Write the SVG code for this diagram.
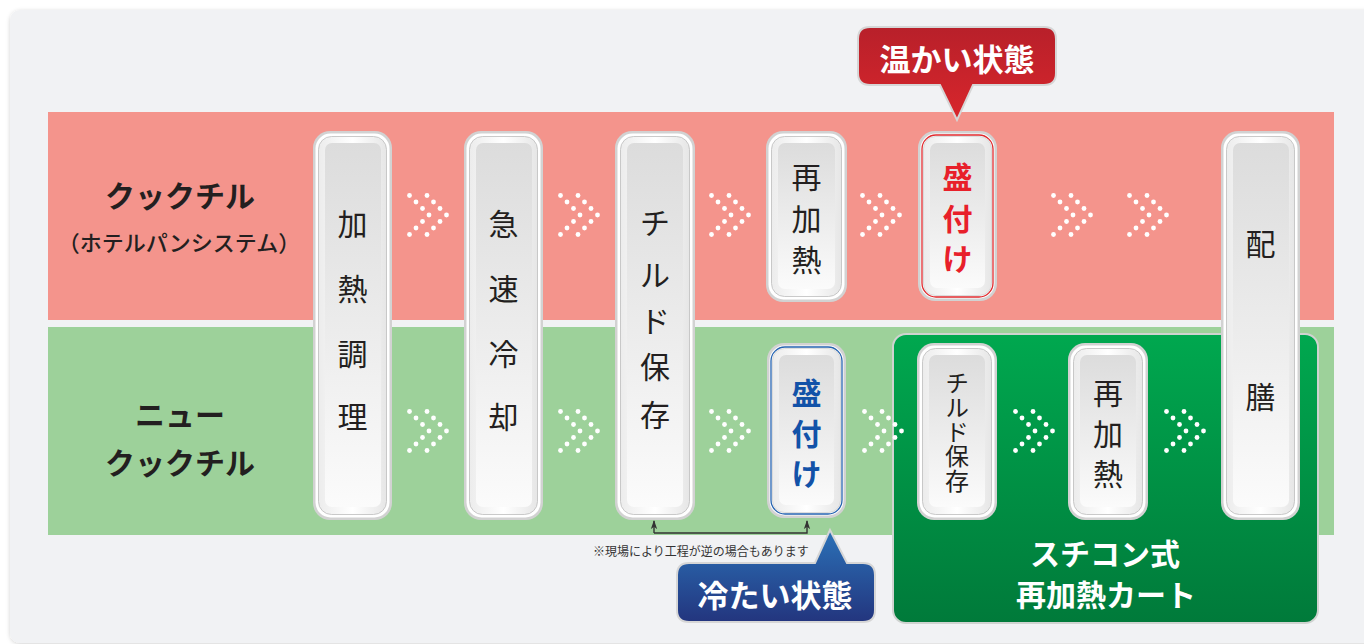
<svg xmlns="http://www.w3.org/2000/svg" width="1364" height="644" viewBox="0 0 1364 644">
<style>
.jp{font-family:"Noto Sans CJK JP","Noto Sans CJK SC",sans-serif}
.node-t{font-family:"Noto Sans CJK JP",sans-serif;font-size:30px;fill:#231f20;text-anchor:middle;dominant-baseline:central}
.lbl{font-family:"Noto Sans CJK JP",sans-serif;font-weight:bold;fill:#231f20;text-anchor:middle;dominant-baseline:central}
.wt{font-family:"Noto Sans CJK JP",sans-serif;font-weight:bold;fill:#fff;text-anchor:middle;dominant-baseline:central}
.dot{fill:#fff}
</style>
<defs>
<filter id="sh" x="-5%" y="-5%" width="110%" height="110%">
<feDropShadow dx="0" dy="1" stdDeviation="2" flood-color="#000" flood-opacity="0.18"/>
</filter>
<linearGradient id="inner" x1="0" y1="0" x2="0" y2="1">
<stop offset="0" stop-color="#dcdcdc"/>
<stop offset="1" stop-color="#fbfbfb"/>
</linearGradient>
<linearGradient id="ring" x1="0" y1="0" x2="1" y2="0">
<stop offset="0" stop-color="#ececec"/>
<stop offset="0.5" stop-color="#ffffff"/>
<stop offset="1" stop-color="#e6e6e6"/>
</linearGradient>
<linearGradient id="cart" x1="0" y1="0" x2="0" y2="1">
<stop offset="0" stop-color="#00a84f"/>
<stop offset="1" stop-color="#007a3a"/>
</linearGradient>
<linearGradient id="redb" x1="0" y1="0" x2="0" y2="1">
<stop offset="0" stop-color="#b8202a"/>
<stop offset="1" stop-color="#d8262c"/>
</linearGradient>
<linearGradient id="blueb" x1="0" y1="0" x2="0" y2="1">
<stop offset="0" stop-color="#2b72b8"/>
<stop offset="1" stop-color="#23357e"/>
</linearGradient>
<g id="chev">
<circle class="dot" cx="-18.5" cy="-19.5" r="2.4"/>
<circle class="dot" cx="-12" cy="-13" r="2.4"/>
<circle class="dot" cx="-5.5" cy="-6.5" r="2.4"/>
<circle class="dot" cx="1" cy="0" r="2.4"/>
<circle class="dot" cx="-5.5" cy="6.5" r="2.4"/>
<circle class="dot" cx="-12" cy="13" r="2.4"/>
<circle class="dot" cx="-18.5" cy="19.5" r="2.4"/>
<circle class="dot" cx="-1" cy="-19.5" r="2.4"/>
<circle class="dot" cx="5.5" cy="-13" r="2.4"/>
<circle class="dot" cx="12" cy="-6.5" r="2.4"/>
<circle class="dot" cx="18.5" cy="0" r="2.4"/>
<circle class="dot" cx="12" cy="6.5" r="2.4"/>
<circle class="dot" cx="5.5" cy="13" r="2.4"/>
<circle class="dot" cx="-1" cy="19.5" r="2.4"/>
</g>
<marker id="ah" viewBox="0 0 10 10" refX="9" refY="5" markerWidth="9" markerHeight="9" orient="auto" markerUnits="userSpaceOnUse">
<path d="M0,1.5 L10,5 L0,8.5 L2.5,5 Z" fill="#333"/>
</marker>
</defs>

<rect x="0" y="0" width="1364" height="644" fill="#ffffff"/>
<rect x="10" y="10" width="1400" height="633" rx="10" fill="#f1f2f4" filter="url(#sh)"/>

<g id="bands">
<rect x="48" y="112" width="1286" height="208" fill="#f4948c"/>
<rect x="48" y="327" width="1286" height="208" fill="#9dd19a"/>
</g>

<g id="row-labels">
<text class="lbl" x="180" y="194" font-size="30">クックチル</text>
<text class="lbl" x="179" y="241" font-size="22" style="font-weight:500">（ホテルパンシステム）</text>
<text class="lbl" x="180" y="413" font-size="30">ニュー</text>
<text class="lbl" x="180" y="461" font-size="30">クックチル</text>
</g>

<g id="cart">
<rect x="893" y="334" width="425" height="289" rx="13" fill="url(#cart)" stroke="#cfd3d0" stroke-width="2"/>
<text class="wt" x="1105" y="552" font-size="30">スチコン式</text>
<text class="wt" x="1106" y="593" font-size="30">再加熱カート</text>
</g>

<g id="connectors">
<use href="#chev" x="428" y="215"/>
<use href="#chev" x="579" y="215"/>
<use href="#chev" x="730" y="215"/>
<use href="#chev" x="881" y="215"/>
<use href="#chev" x="1072" y="215"/>
<use href="#chev" x="1148" y="215"/>
<use href="#chev" x="428" y="431"/>
<use href="#chev" x="579" y="431"/>
<use href="#chev" x="730" y="431"/>
<use href="#chev" x="883" y="431"/>
<use href="#chev" x="1034" y="431"/>
<use href="#chev" x="1185" y="431"/>
<path d="M654,533 L654,521" stroke="#333" stroke-width="1.4" fill="none" marker-end="url(#ah)"/>
<path d="M654,533 L807,533 L807,521" stroke="#333" stroke-width="1.4" fill="none" marker-end="url(#ah)"/>
<text class="jp" x="593" y="556" font-size="12" fill="#333">※現場により工程が逆の場合もあります</text>
</g>

<g id="n-kanetsu">
<rect x="313" y="131" width="79" height="389" rx="17" fill="#d2d2d2"/>
<rect x="315.5" y="133.5" width="74" height="384" rx="15" fill="#fff"/>
<rect x="318.5" y="136.5" width="68" height="378" rx="13" fill="url(#ring)" stroke="#bdbdbd" stroke-width="0.8"/>
<rect x="325" y="143" width="56" height="364" rx="7" fill="url(#inner)"/>
<text class="node-t" x="352.5" y="222">加</text>
<text class="node-t" x="352.5" y="287">熱</text>
<text class="node-t" x="352.5" y="352">調</text>
<text class="node-t" x="352.5" y="415">理</text>
</g>

<g id="n-kyusoku">
<rect x="464" y="131" width="79" height="389" rx="17" fill="#d2d2d2"/>
<rect x="466.5" y="133.5" width="74" height="384" rx="15" fill="#fff"/>
<rect x="469.5" y="136.5" width="68" height="378" rx="13" fill="url(#ring)" stroke="#bdbdbd" stroke-width="0.8"/>
<rect x="476" y="143" width="56" height="364" rx="7" fill="url(#inner)"/>
<text class="node-t" x="503.5" y="222">急</text>
<text class="node-t" x="503.5" y="287">速</text>
<text class="node-t" x="503.5" y="352">冷</text>
<text class="node-t" x="503.5" y="415">却</text>
</g>

<g id="n-chilled">
<rect x="615" y="131" width="80" height="389" rx="17" fill="#d2d2d2"/>
<rect x="617.5" y="133.5" width="75" height="384" rx="15" fill="#fff"/>
<rect x="620.5" y="136.5" width="69" height="378" rx="13" fill="url(#ring)" stroke="#bdbdbd" stroke-width="0.8"/>
<rect x="627" y="143" width="56" height="364" rx="7" fill="url(#inner)"/>
<text class="node-t" x="655" y="221">チ</text>
<text class="node-t" x="655" y="273">ル</text>
<text class="node-t" x="655" y="319">ド</text>
<text class="node-t" x="655" y="365">保</text>
<text class="node-t" x="655" y="413">存</text>
</g>

<g id="n-saikanetsu-red">
<rect x="766" y="131" width="81" height="171" rx="17" fill="#d2d2d2"/>
<rect x="768.5" y="133.5" width="76" height="166" rx="15" fill="#fff"/>
<rect x="771.5" y="136.5" width="70" height="160" rx="13" fill="url(#ring)" stroke="#bdbdbd" stroke-width="0.8"/>
<rect x="778" y="143" width="57" height="146" rx="7" fill="url(#inner)"/>
<text class="node-t" x="806.5" y="175">再</text>
<text class="node-t" x="806.5" y="217">加</text>
<text class="node-t" x="806.5" y="258">熱</text>
</g>

<g id="n-moritsuke-red">
<rect x="918" y="131" width="79" height="170" rx="17" fill="#d2d2d2"/>
<rect x="920.5" y="133.5" width="74" height="165" rx="15" fill="#fff"/>
<rect x="922" y="135" width="71" height="162" rx="14" fill="none" stroke="#e02a2e" stroke-width="1.3"/>
<rect x="923.5" y="136.5" width="68" height="159" rx="12" fill="url(#ring)" stroke="#c8c8c8" stroke-width="0.6"/>
<rect x="930" y="143" width="55" height="145" rx="7" fill="url(#inner)"/>
<text class="node-t" x="957.5" y="175" font-weight="bold" style="fill:#e8202a">盛</text>
<text class="node-t" x="957.5" y="217" font-weight="bold" style="fill:#e8202a">付</text>
<text class="node-t" x="957.5" y="257" font-weight="bold" style="fill:#e8202a">け</text>
</g>

<g id="n-moritsuke-blue">
<rect x="767" y="343" width="79" height="175" rx="17" fill="#d2d2d2"/>
<rect x="769.5" y="345.5" width="74" height="170" rx="15" fill="#fff"/>
<rect x="771" y="347" width="71" height="167" rx="14" fill="none" stroke="#2563b0" stroke-width="1.3"/>
<rect x="772.5" y="348.5" width="68" height="164" rx="12" fill="url(#ring)" stroke="#c8c8c8" stroke-width="0.6"/>
<rect x="779" y="355" width="55" height="150" rx="7" fill="url(#inner)"/>
<text class="node-t" x="806.5" y="391" font-weight="bold" style="fill:#1252a8">盛</text>
<text class="node-t" x="806.5" y="432" font-weight="bold" style="fill:#1252a8">付</text>
<text class="node-t" x="806.5" y="472" font-weight="bold" style="fill:#1252a8">け</text>
</g>

<g id="n-chilled-cart">
<rect x="917" y="343" width="80" height="177" rx="17" fill="#d2d2d2"/>
<rect x="919.5" y="345.5" width="75" height="172" rx="15" fill="#fff"/>
<rect x="922.5" y="348.5" width="69" height="166" rx="13" fill="url(#ring)" stroke="#bdbdbd" stroke-width="0.8"/>
<rect x="929" y="355" width="56" height="152" rx="7" fill="url(#inner)"/>
<text x="957" y="432" font-family="Noto Sans CJK JP, sans-serif" font-size="24" fill="#231f20" text-anchor="middle" style="writing-mode:vertical-rl;text-orientation:upright" letter-spacing="0.5">チルド保存</text>
</g>

<g id="n-saikanetsu-cart">
<rect x="1068" y="343" width="80" height="177" rx="17" fill="#d2d2d2"/>
<rect x="1070.5" y="345.5" width="75" height="172" rx="15" fill="#fff"/>
<rect x="1073.5" y="348.5" width="69" height="166" rx="13" fill="url(#ring)" stroke="#bdbdbd" stroke-width="0.8"/>
<rect x="1080" y="355" width="56" height="152" rx="7" fill="url(#inner)"/>
<text class="node-t" x="1108" y="391">再</text>
<text class="node-t" x="1108" y="432">加</text>
<text class="node-t" x="1108" y="472">熱</text>
</g>

<g id="n-haizen">
<rect x="1221" y="131" width="79" height="389" rx="17" fill="#d2d2d2"/>
<rect x="1223.5" y="133.5" width="74" height="384" rx="15" fill="#fff"/>
<rect x="1226.5" y="136.5" width="68" height="378" rx="13" fill="url(#ring)" stroke="#bdbdbd" stroke-width="0.8"/>
<rect x="1233" y="143" width="56" height="364" rx="7" fill="url(#inner)"/>
<text class="node-t" x="1260.5" y="242">配</text>
<text class="node-t" x="1260.5" y="395">膳</text>
</g>

<g id="bubble-warm">
<path d="M870,27 H1044 Q1056,27 1056,39 V73 Q1056,85 1044,85 H973 L957,120 L940,85 H870 Q858,85 858,73 V39 Q858,27 870,27 Z" fill="url(#redb)" stroke="#d6d6d6" stroke-width="2"/>
<text class="wt" x="957" y="57" font-size="31">温かい状態</text>
</g>

<g id="bubble-cold">
<path d="M689,563 H815 L830,530 L847,563 H863 Q875,563 875,575 V610 Q875,622 863,622 H689 Q677,622 677,610 V575 Q677,563 689,563 Z" fill="url(#blueb)" stroke="#d6d6d6" stroke-width="2"/>
<text class="wt" x="775" y="593" font-size="31">冷たい状態</text>
</g>
</svg>
